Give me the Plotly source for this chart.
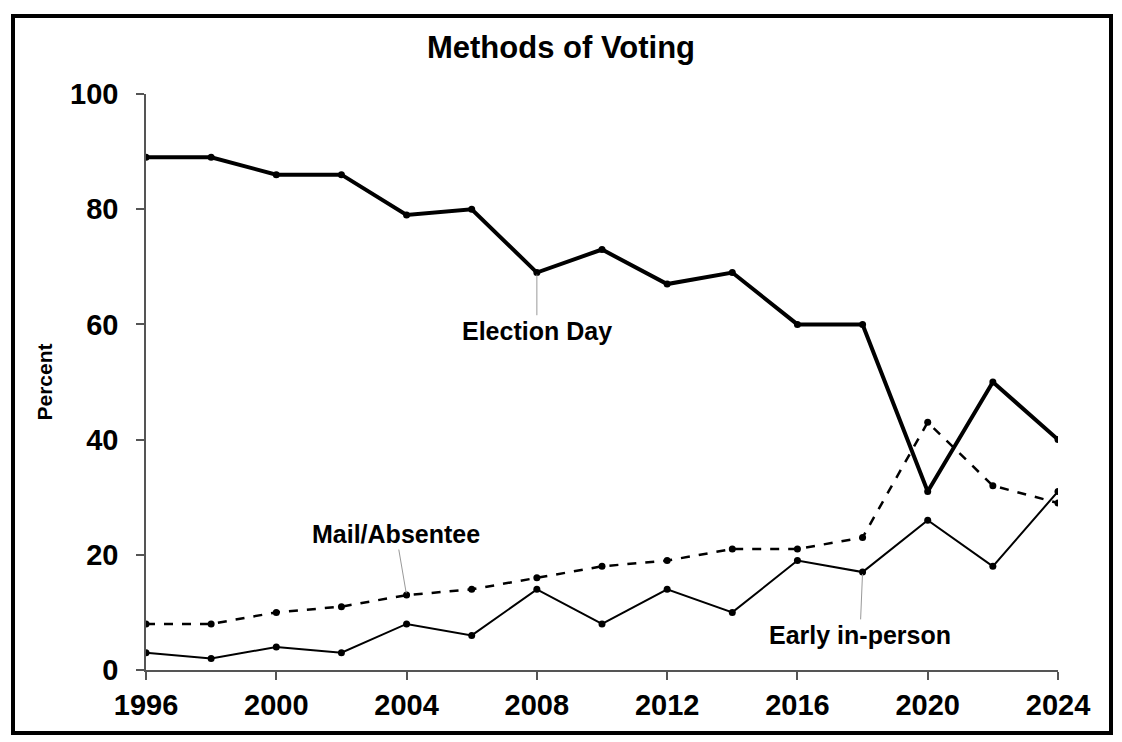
import plotly.graph_objects as go

years = [1996, 1998, 2000, 2002, 2004, 2006, 2008, 2010, 2012, 2014, 2016, 2018, 2020, 2022, 2024]
election_day = [89, 89, 86, 86, 79, 80, 69, 73, 67, 69, 60, 60, 31, 50, 40]
mail_absentee = [8, 8, 10, 11, 13, 14, 16, 18, 19, 21, 21, 23, 43, 32, 29]
early_in_person = [3, 2, 4, 3, 8, 6, 14, 8, 14, 10, 19, 17, 26, 18, 31]
x_ticks = [1996, 2000, 2004, 2008, 2012, 2016, 2020, 2024]
y_ticks = [0, 20, 40, 60, 80, 100]

FONT = "Liberation Sans, Arial, sans-serif"

fig = go.Figure()
fig.add_trace(go.Scatter(x=years, y=election_day, mode="lines+markers", name="Election Day",
                         line=dict(color="black", width=4), marker=dict(size=7, color="black")))
fig.add_trace(go.Scatter(x=years, y=mail_absentee, mode="lines+markers", name="Mail/Absentee",
                         line=dict(color="black", width=2.5, dash="dash"), marker=dict(size=7, color="black")))
fig.add_trace(go.Scatter(x=years, y=early_in_person, mode="lines+markers", name="Early in-person",
                         line=dict(color="black", width=2), marker=dict(size=7, color="black")))

def label(text, x, y, tx, ty):
    fig.add_annotation(x=x, y=y, xref="x", yref="y", ax=tx, ay=ty, axref="x", ayref="y",
                       text="<b>%s</b>" % text, showarrow=True, arrowhead=0, arrowwidth=1,
                       arrowcolor="#999999", standoff=2,
                       font=dict(family=FONT, size=25, color="black"))

label("Election Day", 2008, election_day[6], 2008.0, 58.9)
label("Mail/Absentee", 2004, mail_absentee[4], 2003.68, 23.6)
label("Early in-person", 2018, early_in_person[11], 2017.92, 6.1)

fig.update_layout(
    width=1122, height=742,
    margin=dict(l=146, r=64, t=94, b=72),
    paper_bgcolor="white", plot_bgcolor="white",
    showlegend=False,
    title=dict(text="<b>Methods of Voting</b>", x=561 / 1122, xref="container", xanchor="center",
               y=1 - 47 / 742, yref="container", yanchor="middle",
               font=dict(family=FONT, size=31, color="black")),
    font=dict(family=FONT, color="black"),
    xaxis=dict(range=[1996, 2024], tickvals=x_ticks, ticktext=["<b>%d</b>" % v for v in x_ticks],
               showgrid=False, zeroline=False, showline=True, linecolor="#555555", linewidth=1.5,
               ticks="outside", ticklen=8, tickcolor="#555555", tickwidth=1.5,
               tickfont=dict(family=FONT, size=29, color="black"), ticklabelstandoff=0),
    yaxis=dict(range=[0, 100], tickvals=y_ticks, ticktext=["<b>%d</b>" % v for v in y_ticks],
               showgrid=False, zeroline=False,
               showline=True, linecolor="#555555", linewidth=1.5,
               ticks="outside", ticklen=8, tickcolor="#555555", tickwidth=1.5,
               tickfont=dict(family=FONT, size=29, color="black"), ticklabelstandoff=12,
               title=dict(text="<b>Percent</b>", font=dict(family=FONT, size=21, color="black"),
                          standoff=12)),
)

pw, ph = 1122 - 146 - 64, 742 - 94 - 72
fig.add_shape(type="rect", xref="paper", yref="paper",
              x0=(13 - 146) / pw, x1=(1111 - 146) / pw,
              y0=(670 - 733) / ph, y1=(670 - 16) / ph,
              line=dict(color="black", width=4), fillcolor="rgba(0,0,0,0)", layer="above")

fig.write_html("out.html", config={"displayModeBar": False},
               post_script="document.body.style.margin='0';document.body.style.overflow='hidden';")
